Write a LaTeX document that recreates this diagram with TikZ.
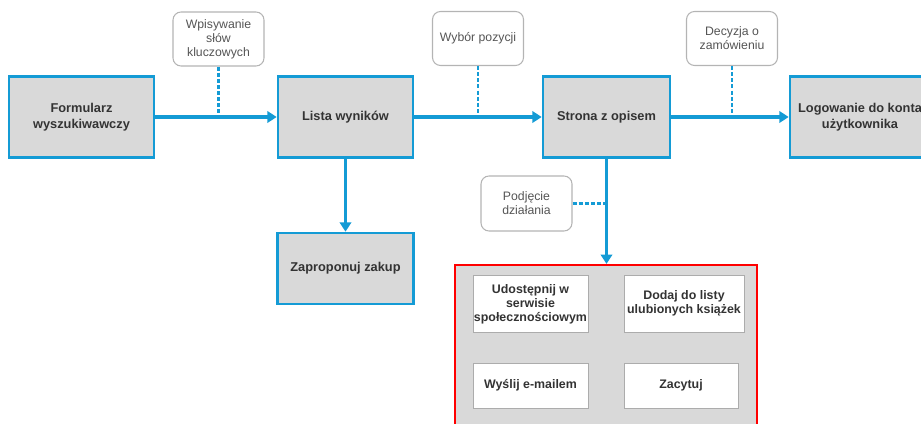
\documentclass[tikz,border=0pt]{standalone}
\usepackage{fontspec}
\setmainfont{Liberation Sans}
\usetikzlibrary{arrows.meta,positioning,calc}
\definecolor{flowblue}{RGB}{20,155,213}
\definecolor{boxfill}{RGB}{217,217,217}
\definecolor{txtdark}{RGB}{51,51,51}
\definecolor{txtgray}{RGB}{85,85,85}
\definecolor{lineray}{RGB}{180,180,180}
\tikzset{
  blk/.style={draw=flowblue, line width=1.9pt, fill=boxfill, align=center,
              text=txtdark, font=\fontsize{9.6}{12}\selectfont\bfseries,
              minimum height=60.75pt, inner sep=0pt},
  callout/.style={draw=lineray, line width=0.8pt, rounded corners=6pt, fill=white,
              align=center, text=txtgray, font=\fontsize{9.2}{10.5}\selectfont,
              minimum width=68.25pt, minimum height=40.5pt, inner sep=0pt},
  optbox/.style={draw=gray!65, line width=0.7pt, fill=white, align=center,
              text=txtdark, font=\fontsize{9.3}{10.8}\selectfont\bfseries, inner sep=0pt},
  flowarr/.style={-{Triangle[length=7pt,width=8.5pt]}, flowblue, line width=2.4pt},
  hintline/.style={flowblue, line width=1.6pt, dash pattern=on 3pt off 1.6pt},
}
\begin{document}
\begin{tikzpicture}[x=0.75pt, y=-0.75pt]
  \useasboundingbox (0,0) rectangle (921,424);
  \clip (0,0) rectangle (921,424);
  % main flow
  \node[blk, minimum width=108.75pt] (formularz) at (81.5,117) {Formularz\\wyszukiwawczy};
  \node[blk, minimum width=101.25pt] (lista) at (345.5,117) {Lista wyników};
  \node[blk, minimum width=95.25pt] (strona) at (606.5,117) {Strona z opisem};
  \node[blk, minimum width=105pt] (logowanie) at (860,117) {Logowanie do konta\\użytkownika};
  \node[blk, minimum width=102pt, minimum height=53.25pt] (zakup) at (345.5,268.5) {Zaproponuj zakup};
  % hints
  \node[callout] (wpis) at (218.5,39) {Wpisywanie\\słów\\kluczowych};
  \node[callout] (wybor) at (478,38.5) {Wybór pozycji};
  \node[callout] (decyzja) at (732,38.5) {Decyzja o\\zamówieniu};
  \node[callout, minimum height=41.25pt] (podjecie) at (526.5,203.5) {Podjęcie\\działania};
  % actions
  \node[draw=red, line width=1.6pt, fill=boxfill, minimum width=226.5pt,
        minimum height=131.25pt, inner sep=0pt] (akcje) at (606,352.5) {};
  \node[optbox, minimum width=86.25pt, minimum height=42.75pt] (udostepnij) at (530.5,303.5)
       {\rule{0pt}{8pt}Udostępnij w\\serwisie\\społecznościowym};
  \node[optbox, minimum width=90pt, minimum height=42.75pt] (dodaj) at (684,303.5)
       {Dodaj do listy\\ulubionych książek};
  \node[optbox, minimum width=86.25pt, minimum height=33.75pt] (wyslij) at (530.5,385.5) {Wyślij e-mailem};
  \node[optbox, minimum width=85.5pt, minimum height=33.75pt] (zacytuj) at (681,385.5) {Zacytuj};

  \draw[flowarr] (formularz) -- (lista);
  \draw[flowarr] (lista) -- (strona);
  \draw[flowarr] (strona) -- (logowanie);
  \draw[flowarr] (lista) -- (zakup);
  \draw[flowarr] (strona.south) -- (akcje.north -| strona.south);

  \draw[hintline] (wpis.south) -- (wpis.south |- formularz.east);
  \draw[hintline] (wybor.south) -- (wybor.south |- lista.east);
  \draw[hintline] (decyzja.south) -- (decyzja.south |- strona.east);
  \draw[hintline] (podjecie.east) -- (podjecie.east -| strona.south);
\end{tikzpicture}
\end{document}
